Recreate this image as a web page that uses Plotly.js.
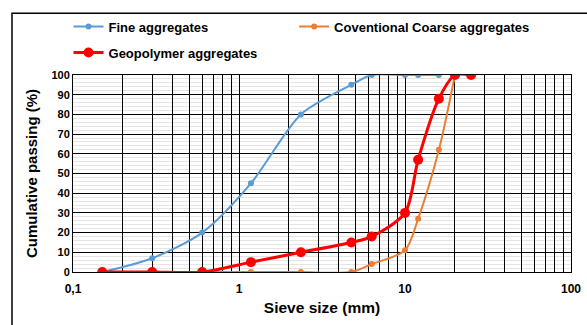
<!DOCTYPE html>
<html><head><meta charset="utf-8">
<script src="https://cdn.plot.ly/plotly-3.0.1.min.js"></script>
<style>body{margin:0;background:#fff}#c{width:587px;height:325px}</style>
</head><body><div id="c"></div>
<script>
const fineSize = [0.15, 0.3, 0.6, 1.18, 2.36, 4.75, 6.3, 10, 12, 16];
const finePass = [0, 7, 20, 45, 80, 95, 100, 100, 100, 100];
const coarseSize = [0.6, 1.18, 2.36, 4.75, 6.3, 10, 12, 16, 20];
const coarsePass = [0, 0, 0, 0, 4, 11, 27, 62, 100];
const geoSize = [0.15, 0.3, 0.6, 1.18, 2.36, 4.75, 6.3, 10, 12, 16, 20, 25];
const geoPass = [0, 0, 0, 5, 10, 15, 18, 30, 57, 88, 100, 100];
const xTickVals = [0.1,0.2,0.3,0.4,0.5,0.6,0.7,0.8,0.9,1,2,3,4,5,6,7,8,9,10,20,30,40,50,60,70,80,90,100];
const xTickText = xTickVals.map(v => v===0.1?'0,1':(v===1||v===10||v===100)?String(v):'');

const font = 'Arial, "Liberation Sans", sans-serif';
const traces = [
  {x: fineSize, y: finePass, name: 'Fine aggregates', type: 'scatter', mode: 'lines+markers',
   line: {color: '#5B9BD5', width: 2, shape: 'spline', smoothing: 0.8}, marker: {color: '#5B9BD5', size: 6}},
  {x: coarseSize, y: coarsePass, name: 'Coventional Coarse aggregates', type: 'scatter', mode: 'lines+markers', legend: 'legend3',
   line: {color: '#ED7D31', width: 2, shape: 'spline', smoothing: 0.8}, marker: {color: '#ED7D31', size: 6}},
  {x: geoSize, y: geoPass, name: 'Geopolymer aggregates', type: 'scatter', mode: 'lines+markers', legend: 'legend2',
   line: {color: '#FF0000', width: 3, shape: 'spline', smoothing: 0.8}, marker: {color: '#FF0000', size: 10}}
];
const legFont = {size: 13, family: font, weight: 'bold'};
const legBase = {orientation: 'h', xanchor: 'left', yanchor: 'top', font: legFont, itemwidth: 30, bgcolor: 'rgba(0,0,0,0)'};
const layout = {
  width: 587, height: 325,
  margin: {l: 73, r: 16, t: 71, b: 53},
  paper_bgcolor: '#fff', plot_bgcolor: '#fff',
  font: {family: font, color: '#000'},
  showlegend: true,
  legend: Object.assign({}, legBase, {x: -0.009, y: 1.322}),
  legend3: Object.assign({}, legBase, {x: 0.444, y: 1.322}),
  legend2: Object.assign({}, legBase, {x: -0.009, y: 1.19}),
  xaxis: {type: 'log', range: [-1, 2], tickvals: xTickVals, ticktext: xTickText,
    showgrid: true, gridcolor: '#000', gridwidth: 1, zeroline: false,
    showline: true, linecolor: '#000', linewidth: 1, mirror: true, ticks: '',
    ticklabelstandoff: 6,
    tickfont: {size: 12, family: font, weight: 'bold'},
    title: {text: 'Sieve size (mm)', font: {size: 15.5, family: font, weight: 'bold'}, standoff: 6}},
  yaxis: {range: [0, 100], dtick: 10, showgrid: true, gridcolor: '#000', gridwidth: 1, zeroline: false,
    showline: true, linecolor: '#000', linewidth: 1, mirror: true, ticks: '',
    tickfont: {size: 11, family: font, weight: 'bold'},
    minor: {dtick: 2, showgrid: true, gridcolor: '#e4e4e4', gridwidth: 1},
    title: {text: 'Cumulative passing (%)', font: {size: 15, family: font, weight: 'bold'}, standoff: 10}},
  shapes: [{type: 'rect', xref: 'paper', yref: 'paper', x0: (12-73)/498, x1: 1.1, y0: -0.4, y1: (272-8)/201,
    line: {color: '#000', width: 1.5}, fillcolor: 'rgba(0,0,0,0)', layer: 'above'}]
};
Plotly.newPlot('c', traces, layout, {displayModeBar: false, staticPlot: true});
</script></body></html>
